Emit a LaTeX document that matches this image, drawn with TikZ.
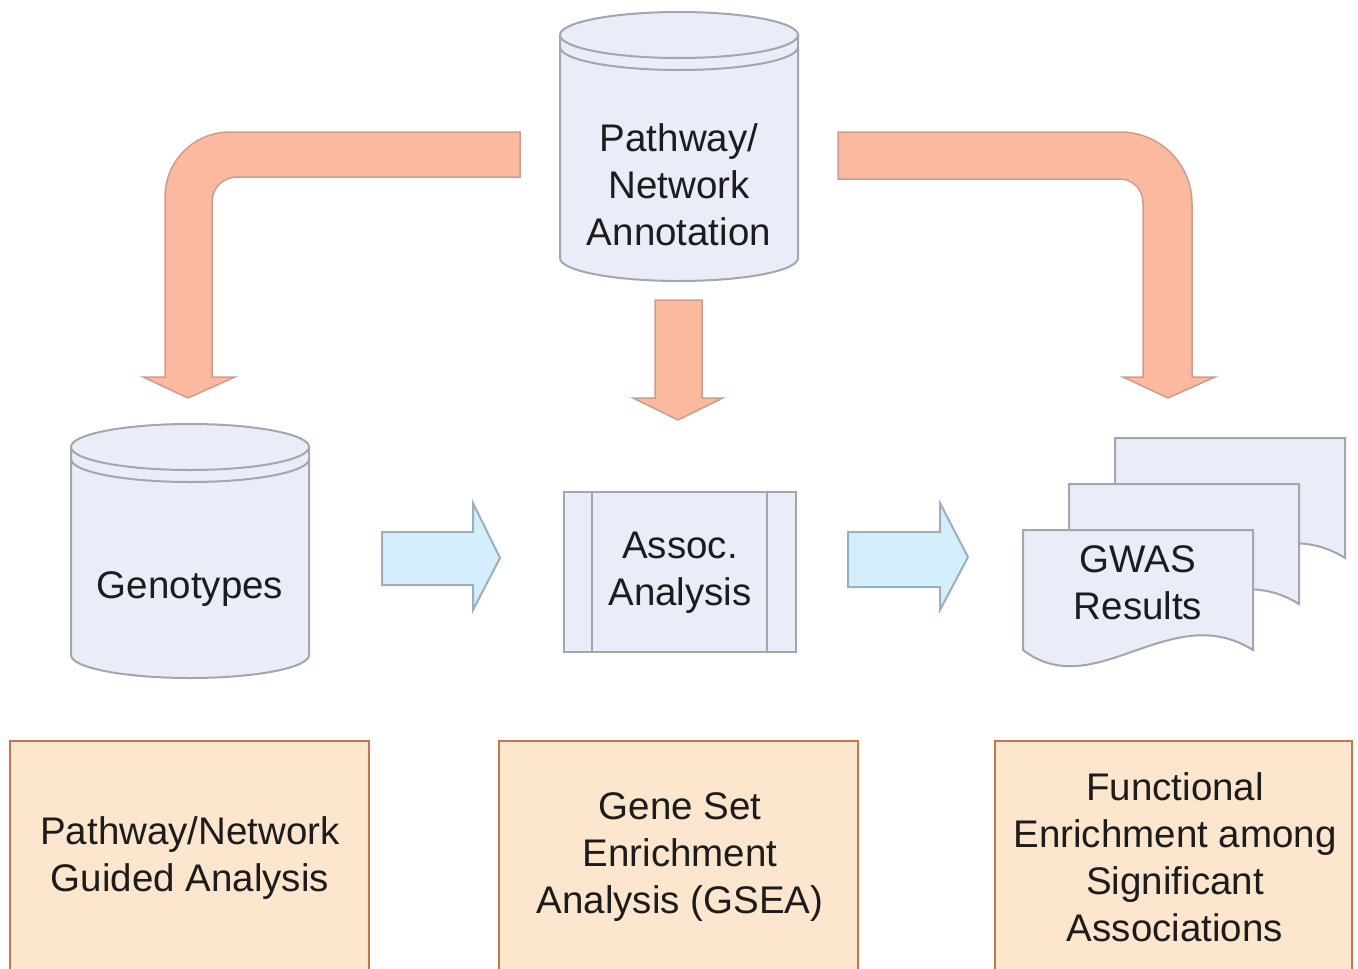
\documentclass[tikz,border=0pt]{standalone}
\usepackage{fontspec}
\setmainfont{Liberation Sans}
\definecolor{dbfill}{HTML}{E9EDF7}
\definecolor{dbline}{HTML}{A3A6AD}
\definecolor{bluefill}{HTML}{D5EEFB}
\definecolor{blueline}{HTML}{9DAFBD}
\definecolor{orfill}{HTML}{FBB9A0}
\definecolor{orline}{HTML}{CE9C8C}
\definecolor{boxfill}{HTML}{FDE6CE}
\definecolor{boxline}{HTML}{C6764F}
\definecolor{txtc}{HTML}{1C1C1C}
\begin{document}
\begin{tikzpicture}[x=1pt,y=-1pt,
  dbshape/.style={draw=dbline,fill=dbfill,line width=2pt},
  rimline/.style={draw=dbline,line width=2pt},
  bluearrow/.style={draw=blueline,fill=bluefill,line width=2pt,line join=miter},
  orarrow/.style={draw=orline,fill=orfill,line width=1.5pt,line join=miter},
  resbox/.style={draw=boxline,fill=boxfill,line width=2.5pt},
  txt/.style={font=\fontsize{38.5}{47}\selectfont,align=center,text=txtc,inner sep=0pt}]
\useasboundingbox (0,0) rectangle (1358,969);
\fill[white] (0,0) rectangle (1358,969);

% top cylinder
\path[dbshape] (560,35) -- (560,258) arc[start angle=180,end angle=0,x radius=119,y radius=23] -- (798,35) -- cycle;
\path[dbshape] (679,35) ellipse[x radius=119,y radius=23];
\path[rimline] (560,47) arc[start angle=180,end angle=0,x radius=119,y radius=23];
\node[txt] (pna) at (679,185) {Pathway/\\Network\\Annotation};

% genotypes cylinder
\path[dbshape] (71,447) -- (71,655) arc[start angle=180,end angle=0,x radius=119,y radius=23] -- (309,447) -- cycle;
\path[dbshape] (190,447) ellipse[x radius=119,y radius=23];
\path[rimline] (71,459) arc[start angle=180,end angle=0,x radius=119,y radius=23];
\node[txt] (geno) at (190,589) {Genotypes};

% assoc analysis
\path[dbshape] (564,492) rectangle (796,652);
\path[rimline] (592,492) -- (592,652);
\path[rimline] (767,492) -- (767,652);
\node[txt] (assoc) at (680,573) {Assoc.\\Analysis};

% GWAS documents
\foreach \dx/\dy in {92/-92,46/-46,0/0}{
  \path[dbshape,shift={(\dx,\dy)}] (1023,530) -- (1253,530) -- (1253,650)
     .. controls (1170,598) and (1095,705) .. (1023,650) -- cycle;
}
\node[txt] (gwas) at (1138,583) {GWAS\\Results};

% blue arrows
\path[bluearrow] (382,532) -- (473,532) -- (473,503) -- (500,558) -- (473,610) -- (473,585) -- (382,585) -- cycle;
\path[bluearrow] (848,532) -- (940,532) -- (940,503) -- (968,557) -- (940,610) -- (940,587) -- (848,587) -- cycle;

% orange arrows
\path[orarrow] (520,132) -- (230,132) .. controls (194,132) and (165,161) .. (165,197)
  -- (165,377) -- (143,377) -- (188,398) -- (235,377) -- (212,377) -- (212,202)
  .. controls (212,188) and (223,177) .. (237,177) -- (520,177) -- cycle;
\path[orarrow] (838,132) -- (1120,132) .. controls (1160,132) and (1192,164) .. (1192,204)
  -- (1192,377) -- (1215,377) -- (1168,398) -- (1123,377) -- (1143,377) -- (1143,203)
  .. controls (1143,190) and (1133,179) .. (1120,179) -- (838,179) -- cycle;
\path[orarrow] (655,300) -- (702,300) -- (702,398) -- (723,398) -- (678,420) -- (633,398) -- (655,398) -- cycle;

% bottom boxes
\path[resbox] (10,741) rectangle (369,985);
\path[resbox] (499,741) rectangle (858,985);
\path[resbox] (995,741) rectangle (1352,985);
\node[txt] (pnga) at (190,858) {Pathway/Network\\Guided Analysis};
\node[txt] (gsea) at (680,857) {Gene Set\\Enrichment\\Analysis (GSEA)};
\node[txt] (fea) at (1175,857) {Functional\\Enrichment among\\Significant\\Associations};
\end{tikzpicture}
\end{document}
